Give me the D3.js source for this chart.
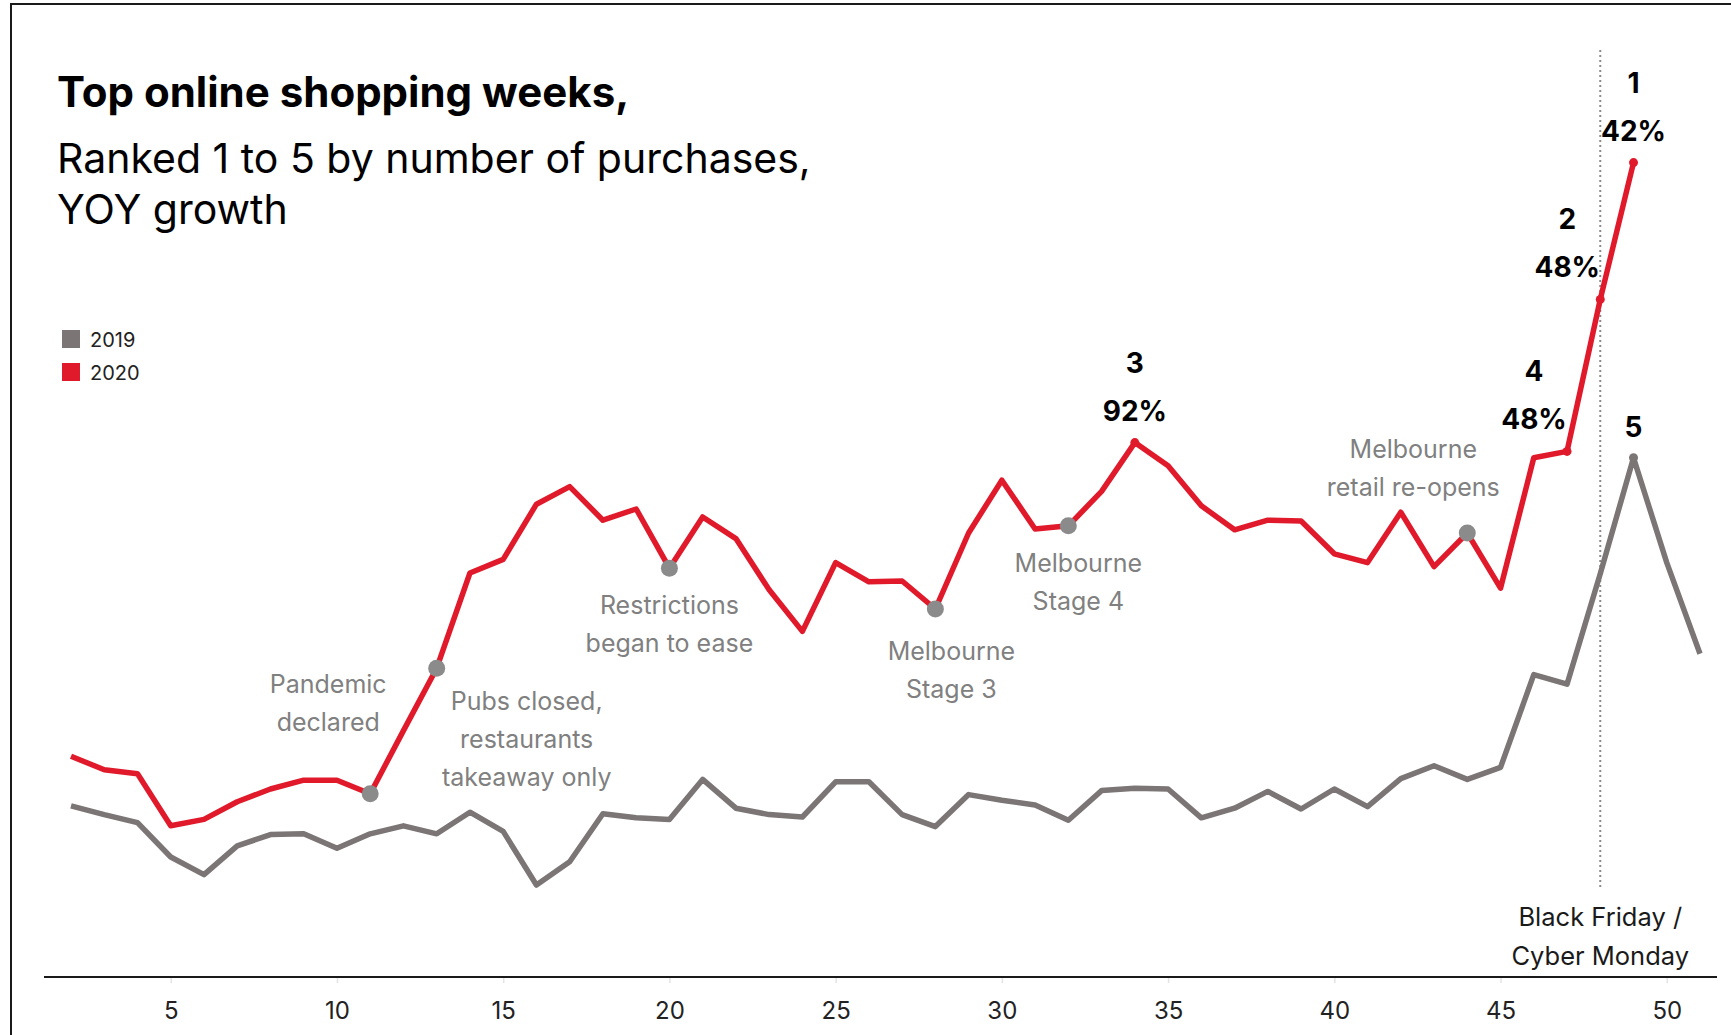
<!DOCTYPE html>
<html>
<head>
<meta charset="utf-8">
<script src="https://cdn.jsdelivr.net/npm/d3@7"></script>
<style>
  body { margin: 0; background: #fff; }
  svg { display: block; font-family: Inter, "Noto Sans", sans-serif; }
</style>
</head>
<body>
<div id="chart"></div>
<script>
// Top online shopping weeks - weekly purchase index, 2019 vs 2020

const weeks2019 = [2,3,4,5,6,7,8,9,10,11,12,13,14,15,16,17,18,19,20,21,22,23,24,25,26,
  27,28,29,30,31,32,33,34,35,36,37,38,39,40,41,42,43,44,45,46,47,48,49,50,51];
const sales2019 = [21.4,20.3,19.3,15.0,12.8,16.4,17.8,17.9,16.1,17.9,18.9,17.9,20.6,18.2,11.5,
  14.4,20.4,19.9,19.7,24.7,21.1,20.3,20.0,24.4,24.4,20.3,18.8,22.8,22.1,21.5,19.6,23.3,23.6,
  23.5,19.9,21.1,23.2,21.0,23.5,21.3,24.8,26.4,24.7,26.2,37.8,36.6,50.4,64.9,51.8,40.4];

const weeks2020 = [2,3,4,5,6,7,8,9,10,11,12,13,14,15,16,17,18,19,20,21,22,23,24,25,26,
  27,28,29,30,31,32,33,34,35,36,37,38,39,40,41,42,43,44,45,46,47,48,49];
const sales2020 = [27.6,25.9,25.4,18.9,19.7,21.9,23.5,24.6,24.6,22.9,30.8,38.6,50.5,52.2,59.1,
  61.3,57.1,58.5,51.1,57.5,54.8,48.4,43.2,51.8,49.4,49.5,46.0,55.5,62.1,56.0,56.4,60.7,66.8,
  63.9,58.9,55.9,57.1,57.0,52.9,51.8,58.1,51.3,55.5,48.6,64.9,65.7,84.7,101.8];

const tickWeeks = [5,10,15,20,25,30,35,40,45,50];

const eventWeeks = [11, 13, 20, 28, 32, 44];
const eventTexts = [
  ["Pandemic", "declared"],
  ["Pubs closed,", "restaurants", "takeaway only"],
  ["Restrictions", "began to ease"],
  ["Melbourne", "Stage 3"],
  ["Melbourne", "Stage 4"],
  ["Melbourne", "retail re-opens"]
];

const rankNumbers = [1, 2, 3, 4, 5];
const rankWeeks = [49, 48, 34, 47, 49];
const rankSeries = ["2020", "2020", "2020", "2020", "2019"];
const rankGrowth = ["42%", "48%", "92%", "48%", ""];

const peakWeek = 48;
const peakText = ["Black Friday /", "Cyber Monday"];

// layout
const W = 1731, H = 1035;
const red = "#e01a2b", grey = "#7b7575", dotGrey = "#8b8b8b", noteGrey = "#808080";

// offsets of event labels from their point (px)
const eventOffsets = [[-42, -101], [90, 42], [0, 46], [16, 51], [10, 46], [-54, -75]];
const rankDx = [0, -33, 0, -33, 0];

const svg = d3.select("#chart").append("svg")
  .attr("width", W)
  .attr("height", H);

svg.append("rect").attr("width", W).attr("height", H).attr("fill", "#fff");

// frame
svg.append("path")
  .attr("d", `M11,${H} V4 H${W}`)
  .attr("fill", "none")
  .attr("stroke", "#1a1a1a")
  .attr("stroke-width", 2);

const x = d3.scaleLinear().domain([2, 51]).range([71, 1700]);
const y = d3.scaleLinear().domain([0, 100]).range([977, 177]);

// titles
svg.append("text")
  .attr("x", 57).attr("y", 107)
  .attr("font-size", 42).attr("font-weight", 700).attr("fill", "#000")
  .text("Top online shopping weeks,");

const sub = svg.append("text")
  .attr("font-size", 41).attr("fill", "#000");
sub.append("tspan").attr("x", 57).attr("y", 173).text("Ranked 1 to 5 by number of purchases,");
sub.append("tspan").attr("x", 57).attr("y", 224).text("YOY growth");

// legend
const legend = svg.append("g").attr("transform", "translate(62,330)");
[["2019", grey], ["2020", red]].forEach(function(d, i) {
  legend.append("rect")
    .attr("x", 0).attr("y", i * 33)
    .attr("width", 18).attr("height", 18)
    .attr("fill", d[1]);
  legend.append("text")
    .attr("x", 28).attr("y", i * 33 + 17)
    .attr("font-size", 20).attr("fill", "#222")
    .text(d[0]);
});

// x axis
const xAxis = d3.axisBottom(x)
  .tickValues(tickWeeks)
  .tickSize(6)
  .tickPadding(19);

const gx = svg.append("g")
  .attr("transform", "translate(0,977)")
  .call(xAxis);
gx.select(".domain").remove();
gx.selectAll(".tick line").attr("stroke", "#e3e3e3").attr("stroke-width", 1.5);
gx.selectAll(".tick text")
  .attr("font-family", "Inter, sans-serif")
  .attr("font-size", 24)
  .attr("fill", "#222");

svg.append("line")
  .attr("x1", 44).attr("x2", 1717)
  .attr("y1", 977).attr("y2", 977)
  .attr("stroke", "#1a1a1a").attr("stroke-width", 2);

// Black Friday marker
svg.append("line")
  .attr("x1", x(peakWeek)).attr("x2", x(peakWeek))
  .attr("y1", 50).attr("y2", 890)
  .attr("stroke", "#8a8a8a")
  .attr("stroke-width", 2)
  .attr("stroke-dasharray", "2,3");

const bf = svg.append("text")
  .attr("text-anchor", "middle")
  .attr("font-size", 25.5).attr("fill", "#1a1a1a");
peakText.forEach(function(t, i) {
  bf.append("tspan").attr("x", x(peakWeek)).attr("y", 926 + i * 39).text(t);
});

// lines
const line = d3.line()
  .x(d => x(d[0]))
  .y(d => y(d[1]));

const pts2019 = weeks2019.map((w, i) => [w, sales2019[i]]);
const pts2020 = weeks2020.map((w, i) => [w, sales2020[i]]);

svg.append("path")
  .datum(pts2019)
  .attr("fill", "none")
  .attr("stroke", grey)
  .attr("stroke-width", 5.5)
  .attr("stroke-linejoin", "round")
  .attr("d", line);

svg.append("path")
  .datum(pts2020)
  .attr("fill", "none")
  .attr("stroke", red)
  .attr("stroke-width", 5.5)
  .attr("stroke-linejoin", "round")
  .attr("d", line);

function valueAt(series, week) {
  if (series === "2019") return sales2019[weeks2019.indexOf(week)];
  return sales2020[weeks2020.indexOf(week)];
}

// ranked weeks
rankNumbers.forEach(function(r, i) {
  const wk = rankWeeks[i];
  const px = x(wk), py = y(valueAt(rankSeries[i], wk));
  svg.append("circle")
    .attr("cx", px).attr("cy", py).attr("r", 4.5)
    .attr("fill", rankSeries[i] === "2019" ? grey : red);

  const lx = px + rankDx[i];
  if (rankGrowth[i]) {
    svg.append("text")
      .attr("x", lx).attr("y", py - 70)
      .attr("text-anchor", "middle")
      .attr("font-size", 28).attr("font-weight", 700).attr("fill", "#000")
      .text(r);
    svg.append("text")
      .attr("x", lx).attr("y", py - 22)
      .attr("text-anchor", "middle")
      .attr("font-size", 28).attr("font-weight", 700).attr("fill", "#000")
      .text(rankGrowth[i]);
  } else {
    svg.append("text")
      .attr("x", lx).attr("y", py - 21)
      .attr("text-anchor", "middle")
      .attr("font-size", 28).attr("font-weight", 700).attr("fill", "#000")
      .text(r);
  }
});

// events
eventWeeks.forEach(function(wk, i) {
  const px = x(wk), py = y(valueAt("2020", wk));
  svg.append("circle")
    .attr("cx", px).attr("cy", py).attr("r", 8.5)
    .attr("fill", dotGrey);

  const t = svg.append("text")
    .attr("text-anchor", "middle")
    .attr("font-size", 25)
    .attr("fill", noteGrey);
  eventTexts[i].forEach(function(s, j) {
    t.append("tspan")
      .attr("x", px + eventOffsets[i][0])
      .attr("y", py + eventOffsets[i][1] + j * 38)
      .text(s);
  });
});
</script>
</body>
</html>
